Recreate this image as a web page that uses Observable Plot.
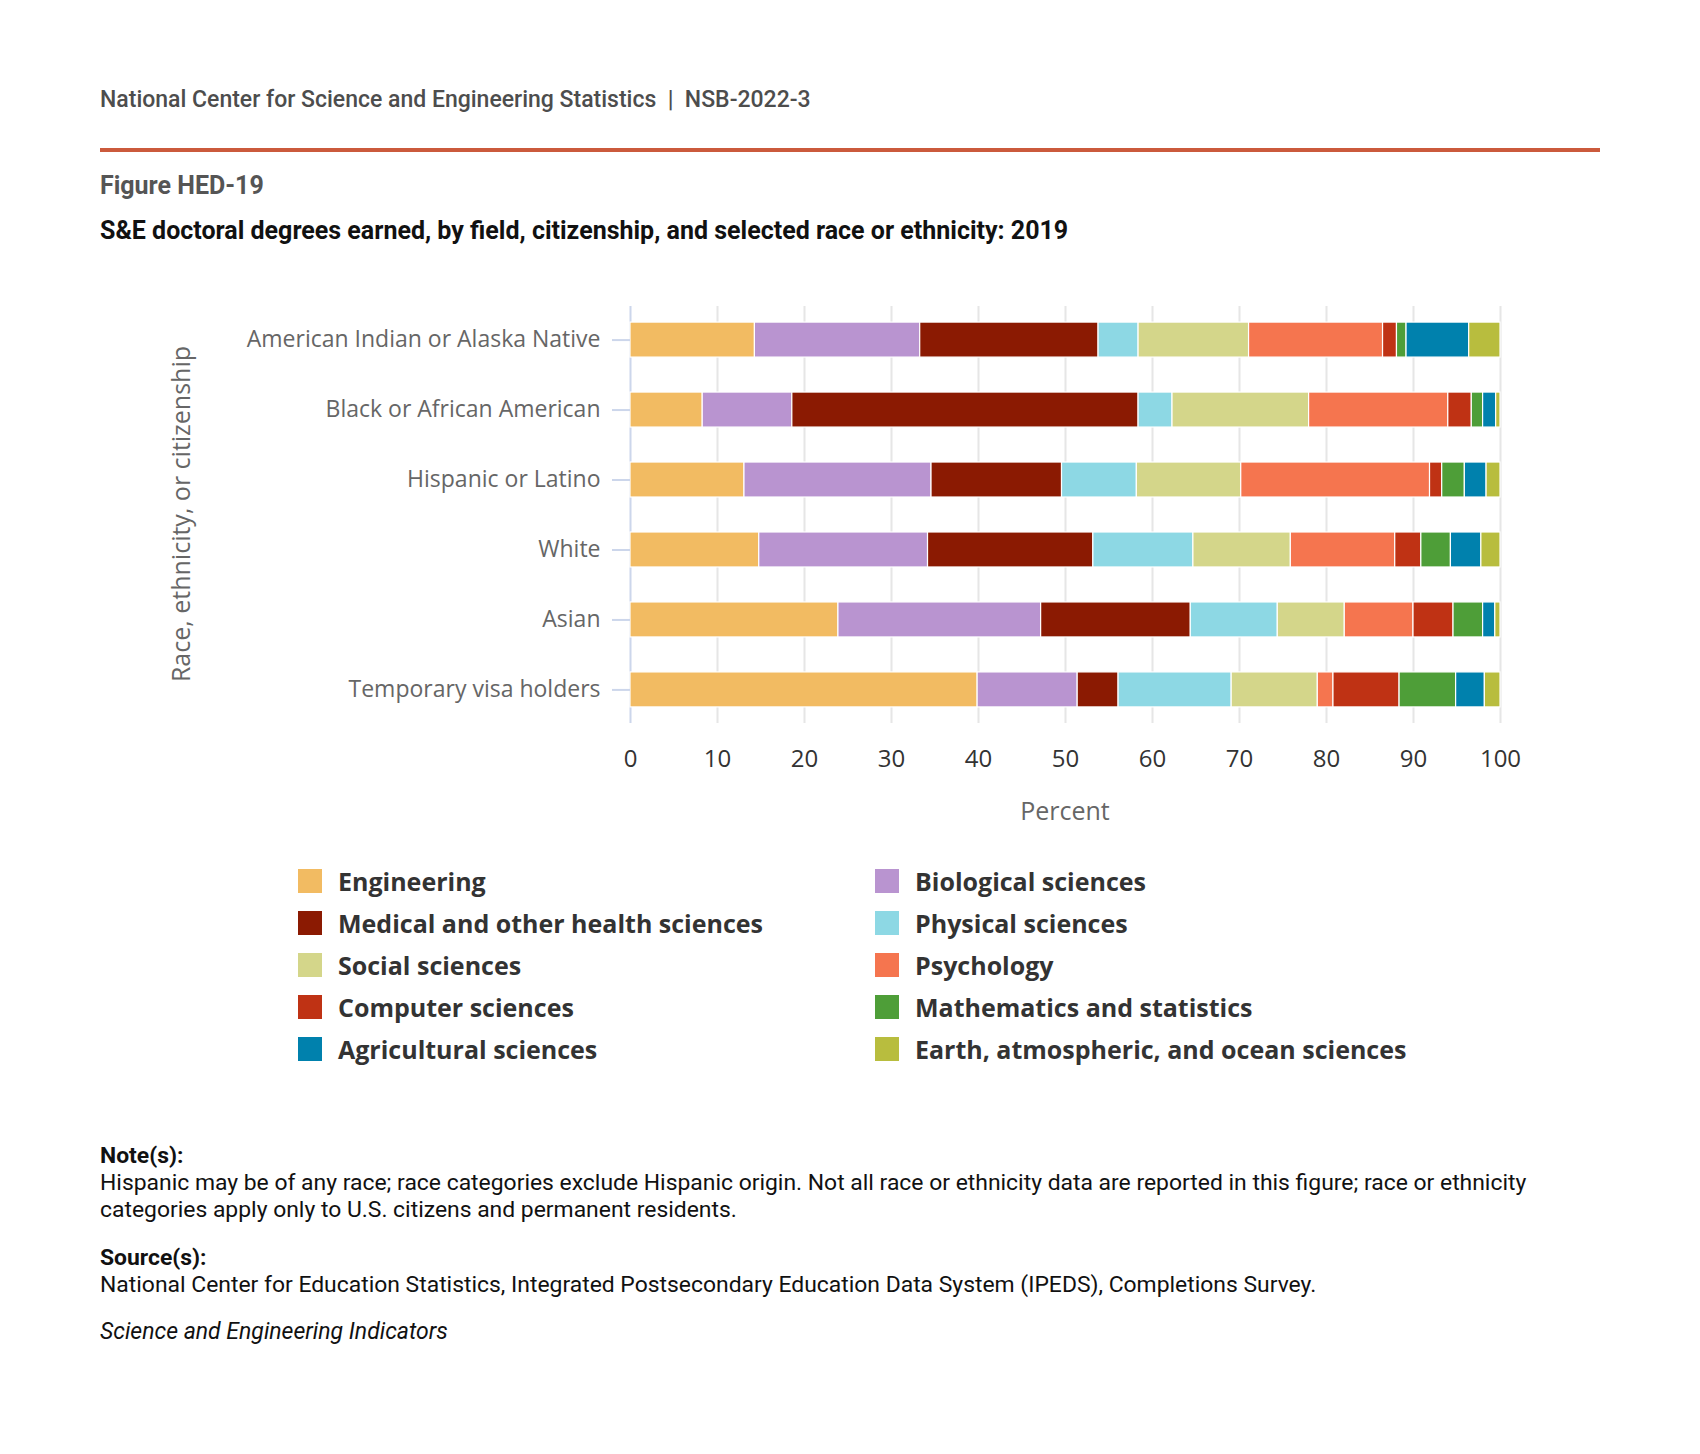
<!DOCTYPE html>
<html>
<head>
<meta charset="utf-8">
<script src="https://cdn.jsdelivr.net/npm/d3@7"></script>
<script src="https://cdn.jsdelivr.net/npm/@observablehq/plot@0.6"></script>
<style>
  html, body { margin: 0; padding: 0; background: #fff; }
  #page { position: relative; width: 1700px; height: 1454px; background: #fff; overflow: hidden; }
  .abs { position: absolute; white-space: nowrap; }
  .roboto { font-family: Roboto, "Liberation Sans", sans-serif; }
  .open { font-family: "Open Sans", "DejaVu Sans", sans-serif; }
  #chart { position: absolute; left: 0; top: 260px; }
  #chart [aria-label="y-axis tick label"] { fill: #666; }
  #chart [aria-label="x-axis tick label"] { fill: #333; }
  #chart text { font-family: "Open Sans", sans-serif; }
  .leg { position: absolute; display: flex; align-items: center; height: 30px; font-family: "Open Sans", sans-serif; font-weight: 700; font-size: 25px; color: #333; white-space: nowrap; }
  .leg .sw { width: 24px; height: 24px; margin-right: 16px; flex: none; }
</style>
</head>
<body>
<div id="page">
  <div class="abs roboto" style="left:100px; top:86px; font-size:23px; line-height:28px; font-weight:500; color:#4d4d4d;">National Center for Science and Engineering Statistics&nbsp;&nbsp;|&nbsp;&nbsp;NSB-2022-3</div>
  <div class="abs" style="left:100px; top:148px; width:1500px; height:4px; background:#cb5a3c;"></div>
  <div class="abs roboto" style="left:100px; top:172px; font-size:25px; line-height:28px; font-weight:700; color:#555;">Figure HED-19</div>
  <div class="abs roboto" style="left:100px; top:217px; font-size:25px; line-height:28px; font-weight:700; color:#111;">S&amp;E doctoral degrees earned, by field, citizenship, and selected race or ethnicity: 2019</div>

  <div id="chart"></div>
  <div class="abs open" id="ytitle" style="left:180px; top:514px; font-size:25px; line-height:30px; color:#666; transform: translate(-50%, -50%) rotate(-90deg);">Race, ethnicity, or citizenship</div>
  <div class="abs open" style="left:1065px; top:810px; font-size:25px; line-height:30px; color:#666; transform: translate(-50%, -50%);">Percent</div>

  <div id="legend"></div>

  <div class="abs roboto" style="left:100px; top:1142px; font-size:22.9px; line-height:27px; font-weight:700; color:#111;">Note(s):</div>
  <div class="abs roboto" style="left:100px; top:1169px; font-size:22.9px; line-height:27px; color:#111;">Hispanic may be of any race; race categories exclude Hispanic origin. Not all race or ethnicity data are reported in this figure; race or ethnicity<br>categories apply only to U.S. citizens and permanent residents.</div>
  <div class="abs roboto" style="left:100px; top:1244px; font-size:22.9px; line-height:27px; font-weight:700; color:#111;">Source(s):</div>
  <div class="abs roboto" style="left:100px; top:1271px; font-size:22.9px; line-height:27px; color:#111;">National Center for Education Statistics, Integrated Postsecondary Education Data System (IPEDS), Completions Survey.</div>
  <div class="abs roboto" style="left:100px; top:1318px; font-size:23px; line-height:27px; font-style:italic; color:#111;">Science and Engineering Indicators</div>
</div>
<script>
// ---- Data ----
const categories = [
  "American Indian or Alaska Native",
  "Black or African American",
  "Hispanic or Latino",
  "White",
  "Asian",
  "Temporary visa holders"
];
const fields = [
  "Engineering",
  "Biological sciences",
  "Medical and other health sciences",
  "Physical sciences",
  "Social sciences",
  "Psychology",
  "Computer sciences",
  "Mathematics and statistics",
  "Agricultural sciences",
  "Earth, atmospheric, and ocean sciences"
];
const colors = [
  "#f2bb62", "#b994d0", "#8b1a02", "#8dd8e4", "#d4d68a",
  "#f5754f", "#bf3214", "#4e9e38", "#0081ad", "#b8bd3e"
];
// percent shares, in field order
const americanIndian = [14.3, 19.0, 20.5, 4.6, 12.7, 15.4, 1.6, 1.1, 7.2, 3.6];
const black          = [8.3, 10.3, 39.8, 3.9, 15.7, 16.0, 2.7, 1.3, 1.5, 0.5];
const hispanic       = [13.1, 21.5, 15.0, 8.6, 12.0, 21.7, 1.4, 2.6, 2.5, 1.6];
const white          = [14.8, 19.4, 19.0, 11.5, 11.2, 12.0, 3.0, 3.4, 3.5, 2.2];
const asian          = [23.9, 23.3, 17.2, 10.0, 7.7, 7.9, 4.6, 3.4, 1.4, 0.6];
const tempVisa       = [39.9, 11.5, 4.7, 13.0, 9.9, 1.8, 7.6, 6.5, 3.3, 1.8];
const xTicks = [0, 10, 20, 30, 40, 50, 60, 70, 80, 90, 100];

const seriesByCategory = [americanIndian, black, hispanic, white, asian, tempVisa];
const rows = [];
fields.forEach((f, j) => {
  categories.forEach((c, i) => {
    rows.push({group: c, field: f, value: seriesByCategory[i][j]});
  });
});

const chart = Plot.plot({
  width: 1700,
  height: 560,
  marginLeft: 630,
  marginRight: 200,
  marginTop: 46,
  marginBottom: 97,
  style: {background: "transparent"},
  x: {domain: [0, 100], axis: null},
  y: {domain: categories, paddingInner: 0.5, paddingOuter: 0.23, round: false, axis: null},
  color: {domain: fields, range: colors},
  marks: [
    Plot.gridX(xTicks.slice(1), {stroke: "#e6e6e6", strokeOpacity: 1, strokeWidth: 2}),
    Plot.ruleX([0], {stroke: "#ccd6eb", strokeWidth: 2}),
    Plot.barX(rows, Plot.stackX({x: "value", y: "group", fill: "field", order: fields, stroke: "#fff", strokeWidth: 1.2})),
    Plot.axisX({ticks: xTicks, tickSize: 0, tickPadding: 26, fontSize: 24, label: null, tickFormat: d => String(d)}),
    Plot.axisY({tickSize: 18, tickPadding: 12, stroke: "#ccd6eb", strokeWidth: 2, strokeOpacity: 1, fontSize: 23, label: null})
  ]
});
document.getElementById("chart").appendChild(chart);

// ---- Legend ----
const legend = document.getElementById("legend");
const colX = [298, 875];
const rowY = [881, 923, 965, 1007, 1049];
fields.forEach((f, k) => {
  const col = k % 2, r = Math.floor(k / 2);
  const el = document.createElement("div");
  el.className = "leg";
  el.style.left = colX[col] + "px";
  el.style.top = (rowY[r] - 15) + "px";
  const sw = document.createElement("span");
  sw.className = "sw";
  sw.style.background = colors[k];
  const t = document.createElement("span");
  t.textContent = f;
  el.appendChild(sw);
  el.appendChild(t);
  legend.appendChild(el);
});
</script>
</body>
</html>
